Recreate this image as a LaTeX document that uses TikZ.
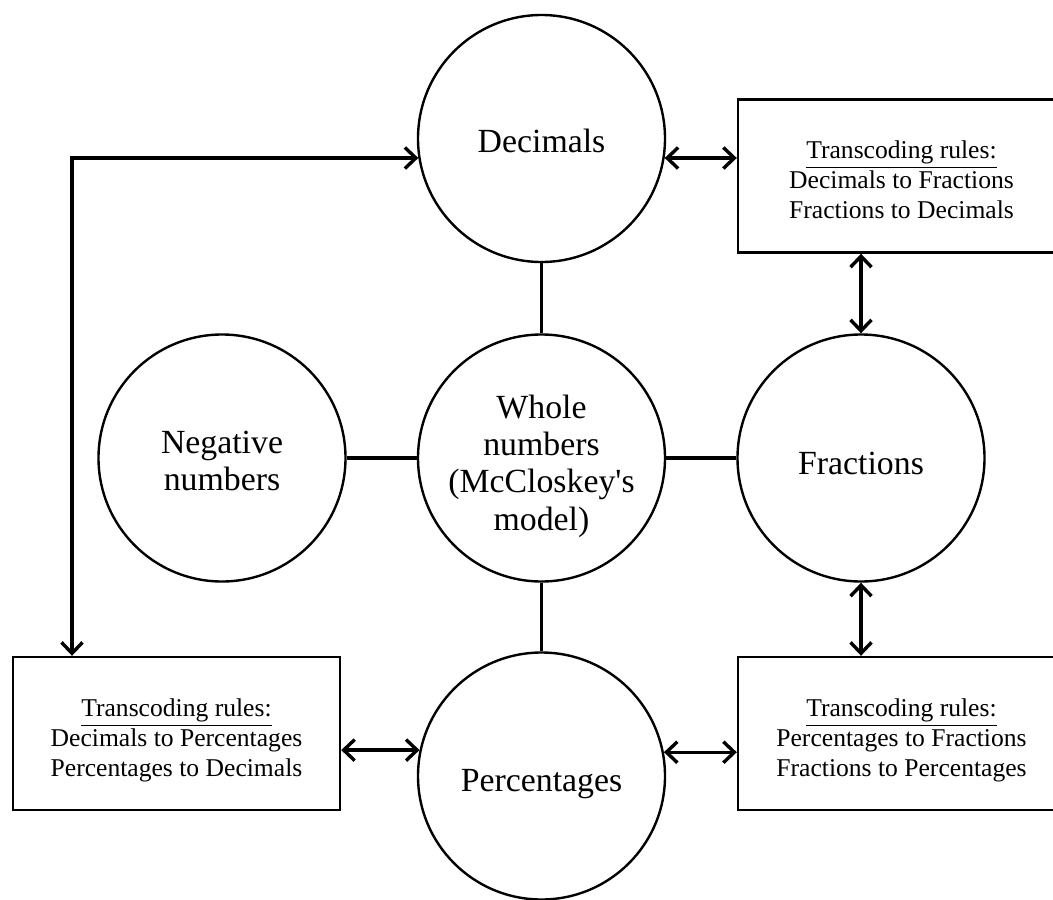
\documentclass[tikz,border=0pt]{standalone}
\usepackage{fontspec}
\setmainfont{Liberation Serif}
\usetikzlibrary{arrows.meta}
\begin{document}
\begin{tikzpicture}[x=0.5pt,y=-0.5pt,
  circ/.style={circle,draw,line width=1.2pt,minimum size=123.5pt,inner sep=0pt},
  circtxt/.style={align=center,inner sep=0pt,font=\fontsize{16.9}{18.7}\selectfont},
  rulebox/.style={rectangle,draw,line width=1.2pt,minimum width=163.5pt,minimum height=76.5pt,inner sep=0pt},
  boxtxt/.style={align=center,inner sep=0pt,font=\fontsize{12.8}{15}\selectfont},
  conn/.style={line width=1.7pt},
  biarrow/.style={conn,{Straight Barb[length=5.5pt,width=10.5pt]}-{Straight Barb[length=5.5pt,width=10.5pt]}}]
\clip (0,0) rectangle (1053,899);
\fill[white] (0,0) rectangle (1053,899);
\node[circ,label={[circtxt,yshift=-1pt]center:Decimals}] (dec) at (541.5,138.5) {};
\node[circ,label={[circtxt,yshift=-4pt]center:Whole\\numbers\\(McCloskey\textquotesingle s\\model)}] (whole) at (541.5,458) {};
\node[circ,label={[circtxt,yshift=-1.5pt]center:Negative\\numbers}] (neg) at (222,458) {};
\node[circ,label={[circtxt,yshift=-2.5pt]center:Fractions}] (frac) at (861,458) {};
\node[circ,label={[circtxt,yshift=-4pt]center:Percentages}] (pct) at (541.5,776) {};
\node[rulebox,label={[boxtxt,yshift=-2pt]center:\underline{Transcoding rules:}\\Decimals to Fractions\\Fractions to Decimals}] (trbox) at (901.5,176) {};
\node[rulebox,label={[boxtxt,yshift=-3.5pt]center:\underline{Transcoding rules:}\\Decimals to Percentages\\Percentages to Decimals}] (blbox) at (176.5,733.5) {};
\node[rulebox,label={[boxtxt,yshift=-3.5pt]center:\underline{Transcoding rules:}\\Percentages to Fractions\\Fractions to Percentages}] (brbox) at (901.5,733.5) {};
\coordinate (corner) at (72,158);
% plain connectors
\draw[conn] (dec.south) -- (whole.north);
\draw[conn] (neg.east) -- (whole.west);
\draw[conn] (whole.east) -- (frac.west);
\draw[conn] (whole.south) -- (pct.north);
% arrows
\draw[biarrow] (dec.-9) -- (dec.-9 -| trbox.west);
\draw[biarrow] (frac.north |- trbox.south) -- (frac.north);
\draw[biarrow] (frac.south) -- (frac.south |- brbox.north);
\draw[biarrow] (pct.168.3) -- (pct.168.3 -| blbox.east);
\draw[biarrow] (pct.11.7) -- (pct.11.7 -| brbox.west);
\draw[biarrow] (dec.189) -- (dec.189 -| corner) -- (corner |- blbox.north);
\end{tikzpicture}
\end{document}
